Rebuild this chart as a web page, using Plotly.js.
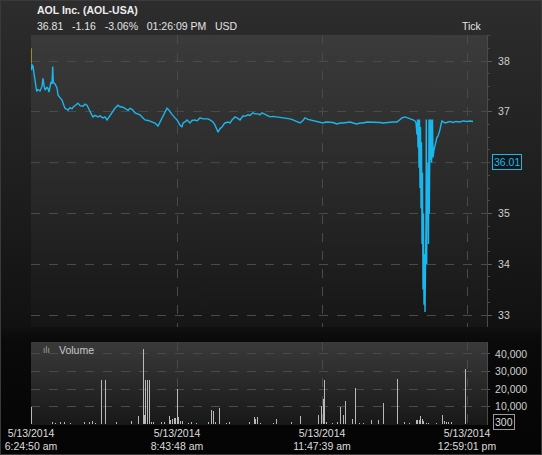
<!DOCTYPE html>
<html><head><meta charset="utf-8">
<script src="https://cdn.plot.ly/plotly-3.0.1.min.js"></script>
<style>
html,body{margin:0;padding:0;width:542px;height:455px;overflow:hidden;}
body{background:linear-gradient(to bottom,#2d2d2d 0px,#282828 60px,#1d1d1d 200px,#111111 325px,#0a0a0a 340px,#040404 455px);}
#chart{position:absolute;left:0;top:0;width:542px;height:455px;}
#frame{position:absolute;left:0;top:0;width:540px;height:453px;border:1px solid #3a3a3a;pointer-events:none;}
</style></head><body>
<div id="chart"></div><div id="frame"></div>
<script>
// ---- data (x = tick index) ----
var preTick = [0, 0];
var preValue = [38.25, 37.95];

var priceTick = [0,0.5,1,2,3,4,5,5.7,7,9,11,12,13,14,16,17,18,19,20,21,21.7,22.3,24,26,27,29,31,33,34,36,37,39,41,42,44,47,49,52,54,56,58,59,61,62,64,67,69,72,74,76,78,79,81,84,87,89,92,94,97,99,101,104,107,109,112,114,117,119,122,124,127,129,131,133,136,138,139,141,144,146,149,151,152,154,156,158,159,161,164,166,169,172,174,177,179,182,184,186,187,189,191,193,194,197,199,201,204,206,209,212,214,217,219,222,224,227,229,231,234,236,239,242,246,249,252,256,259,262,266,269,272,274,277,279,282,286,289,292,295,299,302,306,309,312,316,319,322,326,329,332,336,339,342,346,349,352,356,359,362,366,369,371,374,377,379,382,384,385,386,386.5,387,387.5,388,388.5,389,389.5,390,390.5,391,391.5,392,392.5,393,393.5,394,394.5,395,395.3,395.7,396,396.5,397,397.5,398,398.3,399,399.5,400,400.5,401,401.5,402,403,404,405,406,407,408,409,410,411,414,417,419,422,425,429,432,436,439,442];
var priceValue = [37.95,37.82,37.93,37.90,37.75,37.63,37.45,37.40,37.44,37.41,37.50,37.66,37.52,37.43,37.48,37.46,37.39,37.50,37.59,37.55,37.89,37.58,37.55,37.47,37.33,37.28,37.23,37.12,37.07,37.05,37.03,37.08,37.06,37.09,37.12,37.17,37.12,37.11,37.15,37.13,37.05,37.00,36.93,36.90,36.93,36.90,36.92,36.88,36.90,36.84,36.90,36.92,36.98,37.07,37.13,37.10,37.09,37.06,37.03,37.07,37.05,36.98,36.96,36.94,36.88,36.84,36.83,36.82,36.80,36.78,36.72,36.80,36.88,36.98,37.07,37.03,37.00,36.95,36.88,36.84,36.74,36.70,36.78,36.80,36.84,36.80,36.78,36.83,36.84,36.82,36.88,36.86,36.86,36.86,36.84,36.80,36.74,36.66,36.60,36.67,36.70,36.76,36.78,36.80,36.78,36.84,36.90,36.88,36.84,36.92,36.91,36.94,36.93,36.98,36.96,36.96,36.94,36.98,36.95,36.92,36.90,36.91,36.90,36.88,36.88,36.87,36.86,36.84,36.80,36.78,36.83,36.88,36.85,36.84,36.82,36.80,36.78,36.78,36.80,36.80,36.79,36.76,36.78,36.78,36.80,36.80,36.78,36.76,36.78,36.78,36.80,36.80,36.79,36.80,36.79,36.78,36.79,36.80,36.80,36.80,36.84,36.88,36.90,36.88,36.87,36.84,36.82,36.78,36.55,36.85,36.30,36.85,35.90,36.85,35.50,36.70,35.10,36.40,34.40,35.80,33.50,35.00,33.20,34.20,33.06,33.60,34.80,36.85,34.00,35.20,34.90,36.00,34.40,36.85,35.00,36.85,36.05,36.85,36.00,36.20,36.85,36.10,36.25,36.35,36.40,36.50,36.52,36.58,36.65,36.75,36.82,36.78,36.80,36.81,36.79,36.81,36.80,36.82,36.81,36.82,36.81];

var volumeTick = [0.7,21.3,24.7,29,33.3,39,53.3,58,61.3,64.7,70.7,74.7,85.7,100.7,107.3,112.3,113.3,114.7,116.7,118.7,120.7,122.7,130.7,133.3,138,139.3,141.3,143.3,144.7,146.3,147.7,149.3,151.3,157.3,160.7,165.7,177.3,180.7,182.3,184,188.3,195.7,198.3,218.3,223.3,224.7,226.3,229,242.3,245,260.7,269,287.3,290.3,292.3,293.7,295.7,301.7,306.3,309.7,312.3,314.3,321.3,324.3,328.3,332.3,340.3,347.3,352.3,366.3,373.3,378.3,385,386.7,388.3,389.7,391,392.3,395,397.3,405,411,413,415.7,417.7,420,434];
var volumeValue = [9500,1000,800,1000,1000,800,1000,1000,1500,800,24900,24900,1000,2000,4500,42600,5000,24900,24900,24900,1000,1000,1000,1000,4500,2500,3000,3500,3500,20300,3800,2000,1500,800,1000,800,1000,7900,7500,1000,9100,800,1000,1000,4000,3000,3800,800,800,3000,1000,4500,5000,10500,14400,25300,1000,800,1000,9500,5000,13400,3000,20700,800,800,2200,2600,11800,26000,1000,800,2200,2200,2200,4500,3000,1500,800,800,800,5000,1500,1000,1000,1000,31200];

var xTickVals = [0, 146, 291, 436];
var xTickText = ['5/13/2014<br>6:24:50 am','5/13/2014<br>8:43:48 am','5/13/2014<br>11:47:39 am','5/13/2014<br>12:59:01 pm'];
var priceTicks = [33, 34, 35, 37, 38];
var priceGrid = [33, 34, 35, 36, 37, 38];
var volumeTicks = [10000, 20000, 30000, 40000];
var lastLabel = 36.01;
var volLabel = 300;
var titleText = 'AOL Inc. (AOL-USA)';
var quoteText = ['36.81', '-1.16', '-3.06%', '01:26:09 PM', 'USD'];

// ---- gradients for plot backgrounds ----
function grad(stops) {
  var c = document.createElement('canvas');
  c.width = 4; c.height = 256;
  var g = c.getContext('2d');
  var lg = g.createLinearGradient(0, 0, 0, 256);
  stops.forEach(function (s) { lg.addColorStop(s[0], s[1]); });
  g.fillStyle = lg; g.fillRect(0, 0, 4, 256);
  return c.toDataURL();
}

var FONT = 'Liberation Sans, Arial, sans-serif';
var NB = '\u00a0\u00a0\u00a0';
var priceDom = [0.2513, 1];
var volDom = [0, 0.2128];

var traces = [
  {x: preTick, y: preValue, type: 'scatter', mode: 'lines', xaxis: 'x', yaxis: 'y',
   line: {color: '#e2b321', width: 1.3}, hoverinfo: 'skip'},
  {x: priceTick, y: priceValue, type: 'scatter', mode: 'lines', xaxis: 'x', yaxis: 'y',
   line: {color: '#1cb6ec', width: 1.4}},
  {x: volumeTick, y: volumeValue, type: 'bar', xaxis: 'x', yaxis: 'y2',
   width: 1, marker: {color: '#b9b9b9', line: {width: 0}}}
];

var grid = {showgrid: true, gridcolor: '#4a4a4a', griddash: 'dash', gridwidth: 1, zeroline: false};

var layout = {
  width: 542, height: 455,
  margin: {l: 31, r: 55, t: 35, b: 30},
  paper_bgcolor: 'rgba(0,0,0,0)',
  plot_bgcolor: 'rgba(0,0,0,0)',
  showlegend: false,
  bargap: 0,
  font: {family: FONT, size: 10.5, color: '#d4d4d4'},
  xaxis: Object.assign({}, grid, {
    range: [0, 456], anchor: 'y2', tickmode: 'array', tickvals: xTickVals, ticktext: xTickText,
    ticks: '', showline: false, tickfont: {family: FONT, size: 10.5, color: '#dcdcdc'}
  }),
  yaxis: Object.assign({}, grid, {
    domain: priceDom, range: [32.764, 38.512], side: 'right', anchor: 'x',
    tickmode: 'array', tickvals: priceTicks, ticks: 'outside', ticklen: 4, tickcolor: '#5a5a5a',
    showline: true, linecolor: '#4a4a4a', linewidth: 1, ticklabelstandoff: 4,
    minor: {dtick: 0.25, ticks: 'outside', ticklen: 2, tickcolor: '#4a4a4a', showgrid: false},
    tickfont: {family: FONT, size: 10.5, color: '#cfcfcf'}
  }),
  yaxis2: Object.assign({}, grid, {
    domain: volDom, range: [-500, 46800], side: 'right', anchor: 'x',
    tickmode: 'array', tickvals: volumeTicks, tickformat: ',', ticks: 'outside', ticklen: 2,
    tickcolor: '#5a5a5a', showline: true, linecolor: '#4a4a4a', ticklabelstandoff: 3,
    tickfont: {family: FONT, size: 10.5, color: '#cfcfcf'}
  }),
  shapes: priceGrid.filter(function (v) { return priceTicks.indexOf(v) < 0; }).map(function (v) {
    return {type: 'line', xref: 'paper', yref: 'y', x0: 0, x1: 1, y0: v, y1: v, layer: 'below',
            line: {color: '#4a4a4a', width: 1, dash: 'dash'}};
  }),
  images: [
    {source: grad([[0, '#3b3b3b'], [0.5, '#2a2a2a'], [1, '#161616']]),
     xref: 'paper', yref: 'paper', x: 0, y: 1, sizex: 1, sizey: 1 - priceDom[0],
     xanchor: 'left', yanchor: 'top', sizing: 'stretch', layer: 'below'},
    {source: grad([[0, '#3a3a3a'], [1, '#181818']]),
     xref: 'paper', yref: 'paper', x: 0, y: volDom[1], sizex: 1, sizey: volDom[1],
     xanchor: 'left', yanchor: 'top', sizing: 'stretch', layer: 'below'}
  ],
  annotations: [
    {text: '<b>' + titleText + '</b>', xref: 'paper', yref: 'paper', x: 0.0088, y: 1.064,
     xanchor: 'left', yanchor: 'middle', showarrow: false, font: {family: FONT, size: 10.5, color: '#ececec'}},
    {text: quoteText.join(NB), xref: 'paper', yref: 'paper', x: 0.0088, y: 1.023,
     xanchor: 'left', yanchor: 'middle', showarrow: false, font: {family: FONT, size: 10.5, color: '#e4e4e4'}},
    {text: 'Tick', xref: 'paper', yref: 'paper', x: 0.9934, y: 1.023,
     xanchor: 'right', yanchor: 'middle', showarrow: false, font: {family: FONT, size: 10.5, color: '#e4e4e4'}},
    {text: String(lastLabel.toFixed(2)), xref: 'paper', yref: 'y', x: 1, y: lastLabel, xshift: 5,
     xanchor: 'left', yanchor: 'middle', showarrow: false, bgcolor: '#161616',
     bordercolor: '#1cb6ec', borderwidth: 1, borderpad: 1, font: {family: FONT, size: 10.5, color: '#1cb6ec'}},
    {text: String(volLabel), xref: 'paper', yref: 'y2', x: 1, y: volLabel, xshift: 6, yshift: 2,
     xanchor: 'left', yanchor: 'middle', showarrow: false, bgcolor: '#050505',
     bordercolor: '#9a9a9a', borderwidth: 1, borderpad: 1, font: {family: FONT, size: 10.5, color: '#dcdcdc'}},
    {text: 'ılı', xref: 'paper', yref: 'paper', x: 0.022, y: 0.1923,
     xanchor: 'left', yanchor: 'middle', showarrow: false, font: {family: 'DejaVu Sans, sans-serif', size: 8, color: '#a8a8a8'}},
    {text: 'Volume', xref: 'paper', yref: 'paper', x: 0.057, y: 0.1923,
     xanchor: 'left', yanchor: 'middle', showarrow: false, font: {family: FONT, size: 10.5, color: '#c8c8c8'}}
  ]
};

Plotly.newPlot('chart', traces, layout, {displayModeBar: false, staticPlot: true});
</script></body></html>
